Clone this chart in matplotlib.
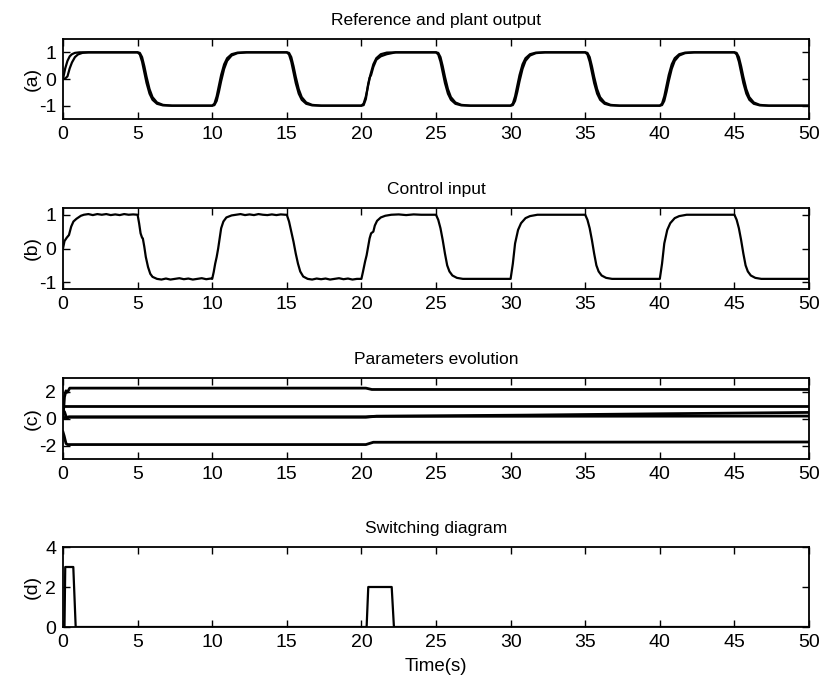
import matplotlib
matplotlib.use("Agg")
import matplotlib.pyplot as plt

plt.rcParams['font.family'] = ['Liberation Sans', 'DejaVu Sans']

# (a) reference model output and plant output
ref_t = [0, 0.15, 0.3, 0.45, 0.6, 0.8, 1.1,
         5, 5.15, 5.3, 5.45, 5.6, 5.8, 6.0, 6.3, 6.7, 7.3,
         10, 10.15, 10.3, 10.45, 10.6, 10.8, 11.0, 11.3, 11.7, 12.3,
         15, 15.15, 15.3, 15.45, 15.6, 15.8, 16.0, 16.3, 16.7, 17.3,
         20, 20.15, 20.3, 20.45, 20.6, 20.8, 21.0, 21.3, 21.7, 22.3,
         25, 25.15, 25.3, 25.45, 25.6, 25.8, 26.0, 26.3, 26.7, 27.3,
         30, 30.15, 30.3, 30.45, 30.6, 30.8, 31.0, 31.3, 31.7, 32.3,
         35, 35.15, 35.3, 35.45, 35.6, 35.8, 36.0, 36.3, 36.7, 37.3,
         40, 40.15, 40.3, 40.45, 40.6, 40.8, 41.0, 41.3, 41.7, 42.3,
         45, 45.15, 45.3, 45.45, 45.6, 45.8, 46.0, 46.3, 46.7, 47.3,
         50]
ref_y = [0, 0.4, 0.68, 0.85, 0.93, 0.98, 1.0,
         1.0, 0.92, 0.65, 0.25, -0.15, -0.55, -0.78, -0.93, -0.99, -1.0,
         -1.0, -0.92, -0.65, -0.25, 0.15, 0.55, 0.78, 0.93, 0.99, 1.0,
         1.0, 0.92, 0.65, 0.25, -0.15, -0.55, -0.78, -0.93, -0.99, -1.0,
         -1.0, -0.92, -0.65, -0.25, 0.15, 0.55, 0.78, 0.93, 0.99, 1.0,
         1.0, 0.92, 0.65, 0.25, -0.15, -0.55, -0.78, -0.93, -0.99, -1.0,
         -1.0, -0.92, -0.65, -0.25, 0.15, 0.55, 0.78, 0.93, 0.99, 1.0,
         1.0, 0.92, 0.65, 0.25, -0.15, -0.55, -0.78, -0.93, -0.99, -1.0,
         -1.0, -0.92, -0.65, -0.25, 0.15, 0.55, 0.78, 0.93, 0.99, 1.0,
         1.0, 0.92, 0.65, 0.25, -0.15, -0.55, -0.78, -0.93, -0.99, -1.0,
         -1.0]

plant_t = [0, 0.15, 0.3, 0.45, 0.6, 0.8, 1.0, 1.3, 1.7,
           5, 5.15, 5.3, 5.45, 5.6, 5.8, 6.0, 6.3, 6.7, 7.3,
           10, 10.15, 10.3, 10.45, 10.6, 10.8, 11.0, 11.3, 11.7, 12.3,
           15, 15.15, 15.3, 15.45, 15.6, 15.8, 16.0, 16.3, 16.7, 17.3,
           20, 20.15, 20.3, 20.45, 20.55, 20.65, 20.8, 21.0, 21.3, 21.7, 22.3,
           25, 25.15, 25.3, 25.45, 25.6, 25.8, 26.0, 26.3, 26.7, 27.3,
           30, 30.15, 30.3, 30.45, 30.6, 30.8, 31.0, 31.3, 31.7, 32.3,
           35, 35.15, 35.3, 35.45, 35.6, 35.8, 36.0, 36.3, 36.7, 37.3,
           40, 40.15, 40.3, 40.45, 40.6, 40.8, 41.0, 41.3, 41.7, 42.3,
           45, 45.15, 45.3, 45.45, 45.6, 45.8, 46.0, 46.3, 46.7, 47.3,
           50]
plant_y = [0, 0.02, 0.1, 0.4, 0.62, 0.82, 0.92, 0.98, 1.0,
           1.0, 0.98, 0.82, 0.48, 0.08, -0.38, -0.68, -0.88, -0.97, -1.0,
           -1.0, -0.98, -0.82, -0.48, -0.08, 0.38, 0.68, 0.88, 0.97, 1.0,
           1.0, 0.98, 0.82, 0.48, 0.08, -0.38, -0.68, -0.88, -0.97, -1.0,
           -1.0, -0.98, -0.75, -0.2, 0.05, 0.15, 0.45, 0.72, 0.85, 0.93, 1.0,
           1.0, 0.98, 0.82, 0.48, 0.08, -0.38, -0.68, -0.88, -0.97, -1.0,
           -1.0, -0.98, -0.82, -0.48, -0.08, 0.38, 0.68, 0.88, 0.97, 1.0,
           1.0, 0.98, 0.82, 0.48, 0.08, -0.38, -0.68, -0.88, -0.97, -1.0,
           -1.0, -0.98, -0.82, -0.48, -0.08, 0.38, 0.68, 0.88, 0.97, 1.0,
           1.0, 0.98, 0.82, 0.48, 0.08, -0.38, -0.68, -0.88, -0.97, -1.0,
           -1.0]

# (b) control input
u_t = [0, 0.1, 0.25, 0.4, 0.55, 0.7, 0.9, 1.2, 1.4, 1.7, 2.0, 2.3, 2.6, 2.9, 3.2, 3.5, 3.8, 4.1, 4.4, 4.7,
       5.0, 5.1, 5.2, 5.3, 5.35, 5.45, 5.55, 5.7, 5.85, 6.0, 6.3, 6.6, 6.9, 7.2, 7.5, 7.8, 8.1, 8.4, 8.7, 9.0, 9.3, 9.6, 9.9,
       10.0, 10.1, 10.2, 10.3, 10.4, 10.5, 10.6, 10.75, 10.95, 11.3, 11.6, 11.9, 12.2, 12.5, 12.8, 13.1, 13.4, 13.7, 14.0, 14.3, 14.6, 14.9,
       15.0, 15.15, 15.3, 15.45, 15.6, 15.75, 15.9, 16.1, 16.4, 16.7, 17.0, 17.3, 17.6, 17.9, 18.2, 18.5, 18.8, 19.1, 19.4, 19.7, 19.95,
       20.0, 20.1, 20.25, 20.35, 20.45, 20.55, 20.65, 20.8, 20.9, 21.05, 21.3, 21.6, 22.0, 22.5, 23.0, 23.5, 24.0, 24.5,
       25.0, 25.15, 25.3, 25.45, 25.6, 25.75, 25.9, 26.1, 26.4, 26.8,
       30.0, 30.15, 30.3, 30.5, 30.7, 31.0, 31.3, 31.8,
       35.0, 35.15, 35.3, 35.45, 35.6, 35.75, 35.9, 36.1, 36.4, 36.8,
       40.0, 40.15, 40.3, 40.5, 40.7, 41.0, 41.3, 41.8,
       45.0, 45.15, 45.3, 45.45, 45.6, 45.75, 45.9, 46.1, 46.4, 46.8,
       50.0]
u_y = [0, 0.22, 0.32, 0.4, 0.65, 0.8, 0.88, 0.97, 1.0, 1.02, 0.99, 1.02, 1.0, 1.02, 0.99, 1.01, 0.99, 1.02, 1.0, 1.01,
       1.0, 0.75, 0.45, 0.32, 0.3, 0.05, -0.25, -0.55, -0.75, -0.84, -0.9, -0.92, -0.89, -0.92, -0.9, -0.88, -0.91, -0.89, -0.92, -0.9, -0.88, -0.91, -0.89,
       -0.9, -0.7, -0.45, -0.25, 0.0, 0.3, 0.6, 0.8, 0.92, 0.98, 1.0, 1.02, 0.99, 1.01, 0.99, 1.02, 1.0, 0.99, 1.01, 0.99, 1.01, 1.0,
       1.0, 0.8, 0.5, 0.2, -0.15, -0.45, -0.68, -0.83, -0.9, -0.92, -0.89, -0.91, -0.89, -0.92, -0.9, -0.88, -0.91, -0.89, -0.92, -0.9, -0.9,
       -0.9, -0.7, -0.38, -0.2, 0.05, 0.3, 0.45, 0.5, 0.68, 0.82, 0.92, 0.97, 1.0, 1.01, 0.99, 1.01, 1.0, 1.0,
       1.0, 0.85, 0.6, 0.25, -0.15, -0.5, -0.68, -0.8, -0.87, -0.9,
       -0.9, -0.45, 0.15, 0.55, 0.75, 0.9, 0.96, 1.0,
       1.0, 0.85, 0.6, 0.25, -0.15, -0.5, -0.68, -0.8, -0.87, -0.9,
       -0.9, -0.45, 0.15, 0.55, 0.75, 0.9, 0.96, 1.0,
       1.0, 0.85, 0.6, 0.25, -0.15, -0.5, -0.68, -0.8, -0.87, -0.9,
       -0.9]

# (c) adaptive parameters
p1_t = [0, 0.1, 0.2, 0.3, 0.45, 20.3, 20.7, 50]
p1_y = [0, 1.6, 2.05, 1.95, 2.25, 2.25, 2.15, 2.15]
p2_t = [0, 50]
p2_y = [0.9, 0.9]
p3_t = [0, 0.1, 0.25, 0.4, 20.3, 21.0, 31.0, 40.0, 50.0]
p3_y = [0.6, 0.5, 0.0, 0.12, 0.12, 0.17, 0.25, 0.35, 0.45]
p4_t = [0, 0.3, 20.3, 21.0, 50.0]
p4_y = [0.05, 0.1, 0.1, 0.16, 0.18]
p5_t = [0, 0.08, 0.2, 0.3, 20.3, 20.8, 50]
p5_y = [-1.0, -1.3, -1.85, -1.93, -1.93, -1.76, -1.74]

# (d) active model index
sw_t = [0, 0.1, 0.15, 0.69, 0.85, 20.35, 20.46, 22.03, 22.18, 50]
sw_y = [0, 0, 3, 3, 0, 0, 2, 2, 0, 0]

fig = plt.figure(figsize=(8.21, 6.77), dpi=100)
left, width = 63 / 821, 746 / 821
boxes = [(119, 80), (289, 81), (459, 81), (627, 80)]
axs = [fig.add_axes([left, (677 - b) / 677, width, h / 677]) for b, h in boxes]

axs[0].plot(ref_t, ref_y, color='black', lw=1.6)
axs[0].plot(plant_t, plant_y, color='black', lw=1.6)
axs[1].plot(u_t, u_y, color='black', lw=1.6)
for t, y in [(p1_t, p1_y), (p2_t, p2_y), (p3_t, p3_y), (p4_t, p4_y), (p5_t, p5_y)]:
    axs[2].plot(t, y, color='black', lw=2.0)
axs[3].plot(sw_t, sw_y, color='black', lw=1.6)

titles = ['Reference and plant output', 'Control input', 'Parameters evolution', 'Switching diagram']
labels = ['(a)', '(b)', '(c)', '(d)']
ylims = [(-1.5, 1.5), (-1.2, 1.2), (-3, 3), (0, 4)]
yticks = [[-1, 0, 1], [-1, 0, 1], [-2, 0, 2], [0, 2, 4]]

for ax, title, lab, yl, yt in zip(axs, titles, labels, ylims, yticks):
    ax.set_xlim(0, 50)
    ax.set_ylim(*yl)
    ax.set_xticks(range(0, 51, 5))
    ax.set_yticks(yt)
    ax.set_yticklabels(['-' + str(-v) if v < 0 else str(v) for v in yt])
    ax.tick_params(direction='in', top=True, right=True, length=5, width=1,
                   labelsize=14, pad=5)
    for s in ax.spines.values():
        s.set_linewidth(1.3)
    ax.set_title(title, fontsize=12.5, pad=10)
    ax.set_ylabel(lab, fontsize=14)
    ax.yaxis.set_label_coords(-22 / 746, 0.5)

axs[3].set_xlabel('Time(s)', fontsize=13.5, labelpad=5)

fig.savefig('out.png', dpi=100, facecolor='white')
